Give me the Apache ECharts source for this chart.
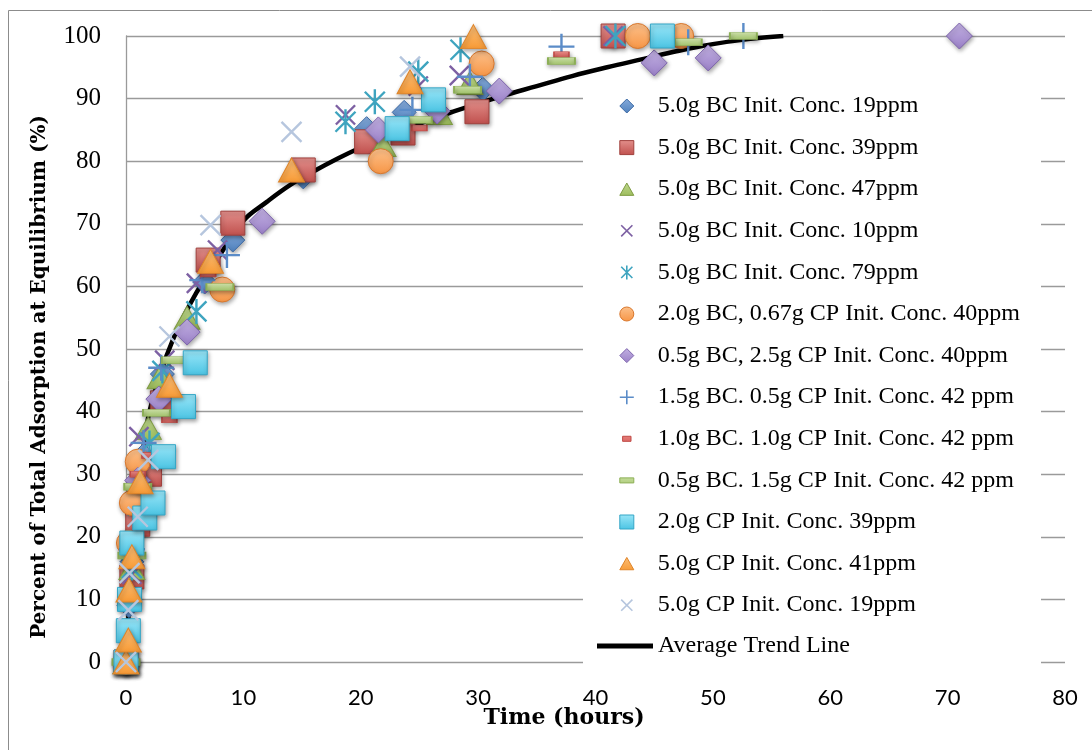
<!DOCTYPE html>
<html><head><meta charset="utf-8">
<script src="https://cdn.jsdelivr.net/npm/echarts@6/dist/echarts.min.js"></script>
<style>html,body{margin:0;padding:0;background:#fff}#c{width:1092px;height:750px}</style>
</head><body><div id="c"></div>
<script>
// ---- data: [time (hours), percent of total adsorption] ----
const seriesNames = [
  '5.0g BC Init. Conc. 19ppm',
  '5.0g BC Init. Conc. 39ppm',
  '5.0g BC Init. Conc. 47ppm',
  '5.0g BC Init. Conc. 10ppm',
  '5.0g BC Init. Conc. 79ppm',
  '2.0g BC, 0.67g CP Init. Conc. 40ppm',
  '0.5g BC, 2.5g CP Init. Conc. 40ppm',
  '1.5g BC. 0.5g CP Init. Conc. 42 ppm',
  '1.0g BC. 1.0g CP Init. Conc. 42 ppm',
  '0.5g BC. 1.5g CP Init. Conc. 42 ppm',
  '2.0g CP Init. Conc. 39ppm',
  '5.0g CP Init. Conc. 41ppm',
  '5.0g CP Init. Conc. 19ppm'
];
const trendName = 'Average Trend Line';

const bc19 = [[0,0],[0.25,9],[0.5,16],[1,26],[1.5,33],[3.1,46],[6.7,60.7],[9.1,67.4],[15.1,77.5],[20.5,85.2],[23.7,87.8],[30.4,91.5],[41.5,100]];
const bc39 = [[0,0],[0.5,13.6],[1,22],[2,30],[3.1,41.4],[7,64.2],[9.1,70.1],[15.1,78.6],[20.5,83.1],[23.6,84.5],[29.9,87.9],[41.5,100]];
const bc47 = [[0,0],[0.5,15],[1,28],[1.9,37.4],[2.9,45.5],[5.2,55],[21.9,82.6],[26.7,87.7],[29.3,92.5]];
const bc10 = [[0,0],[0.5,14],[1.1,36],[3.3,48.2],[6,60.5],[7.8,65.8],[18.7,87.4],[24.9,92],[28.4,93.7],[41.5,100]];
const bc79 = [[0,0],[0.5,15],[1,25],[2,35],[3.1,46.5],[6,56],[18.7,86.3],[21.2,89.5],[24.9,94.3],[28.5,97.8],[41.7,100]];
const bc2cp067 = [[0,0],[0.25,19],[0.5,25.4],[1,32],[8.2,59.5],[21.7,80],[30.3,95.6],[43.6,100],[47.3,100]];
const bc05cp25 = [[0,0],[1,29],[2.8,42],[5.2,52.7],[11.6,70.4],[21.5,85],[26.5,88],[31.8,91.2],[45,95.7],[49.6,96.5],[71,100]];
const bc15cp05 = [[0,0],[0.5,18],[1.5,35],[3,47],[6.5,61],[8.6,65],[24.4,88.2],[29.3,93.5],[37.1,98.3],[47.9,99],[52.6,100]];
const bc10cp10 = [[0,0],[0.5,20],[1,30],[2,33],[3.7,38.7],[7,62],[25,85.3],[37.1,97]];
const bc05cp15 = [[0,0],[0.5,17],[1,28],[2.6,39.8],[4.2,48.2],[8,59.9],[24.9,86.6],[29.1,91.4],[37.1,96],[47.9,99],[52.6,100]];
const cp20 = [[0,0],[0.2,5],[0.3,10],[0.5,19],[1.6,23],[2.3,25.4],[3.2,32.8],[4.9,40.8],[5.9,47.8],[23.1,85.2],[26.2,89.8],[45.7,100]];
const cp50_41 = [[0,0],[0.2,3.5],[0.25,11.5],[0.5,16.8],[1.2,28.8],[3.7,44.2],[7.2,64],[14.1,78.6],[24.2,92.7],[29.6,99.9]];
const cp50_19 = [[0,0],[0.2,8.3],[0.3,14.2],[1,23.2],[1.9,32.3],[3.7,52],[7.2,69.8],[14.1,84.7],[24.2,95.1],[29.7,100.3]];

const trendX = [0,0.5,1,1.5,2,3,4,5,6,7,8,10,12,14,16,18,20,22,24,26,28,30,32,35,38,41,44,47,50,53,56];
const trendY = [0,16,27,34.5,40,46.5,51.5,55.5,59,62,65,70.5,73.5,76.2,78.4,80.4,82.2,83.8,85.2,86.7,88,89.2,90.4,92,93.6,95,96.3,97.6,98.7,99.5,100];

const seriesData = [bc19,bc39,bc47,bc10,bc79,bc2cp067,bc05cp25,bc15cp05,bc10cp10,bc05cp15,cp20,cp50_41,cp50_19];

// ---- styles ----
const P = {
  diamond: 'path://M5,0L10,5L5,10L0,5Z',
  square: 'path://M0,0H10V10H0Z',
  triangle: 'path://M5,0.6L10,9.4L0,9.4ZM0,0M10,10',
  x: 'path://M1,1L9,9M9,1L1,9M0,0M10,10',
  star: 'path://M1,1L9,9M9,1L1,9M5,0L5,10M0,0M10,10',
  circle: 'path://M5,0A5,5,0,1,1,4.99,0Z',
  plus: 'path://M5,0V10M0,5H10',
  dashS: 'path://M2,3.2H8V6.8H2ZM0,0M10,10',
  dashL: 'path://M0,3.2H10V6.8H0ZM0,0M10,10',
  line: 'path://M0,0H56V5H0Z'
};
function grad(a,b){return {type:'linear',x:0,y:0,x2:0,y2:1,colorStops:[{offset:0,color:a},{offset:1,color:b}]};}
const styles = [
  {sym:'diamond', size:24, fill:grad('#86abdb','#4f81bd'), border:'#3d6aa5', icon:P.diamond},
  {sym:'rect', size:24, fill:grad('#e3908c','#c0504d'), border:'#a0403d', icon:P.square},
  {sym:'triangle', size:[26,23], fill:grad('#c2da93','#9bbb59'), border:'#7f9c43', icon:P.triangle},
  {sym:P.x, size:24, stroke:'#7d60a3', icon:P.x},
  {sym:P.star, size:25, stroke:'#3ea4bf', icon:P.star},
  {sym:'circle', size:25, fill:grad('#fcc18c','#f79646'), border:'#d9782e', icon:P.circle},
  {sym:'diamond', size:26, fill:grad('#c2b1e2','#9a80c7'), border:'#7f66ae', icon:P.diamond},
  {sym:P.plus, size:26, stroke:'#5b8cc8', icon:P.plus},
  {sym:'rect', size:[15,6], fill:grad('#ec8c88','#d45a56'), border:'#c04a46', icon:P.dashS},
  {sym:'rect', size:[27,7], fill:grad('#d2e6ad','#a3c46c'), border:'#8caf55', icon:P.dashL},
  {sym:'rect', size:24, fill:grad('#9ae6f8','#4bc4e3'), border:'#35a6c6', icon:P.square},
  {sym:'triangle', size:[26,24], fill:grad('#fcc07a','#f79a35'), border:'#df8428', icon:P.triangle},
  {sym:P.x, size:25, stroke:'#b6c6de', icon:P.x}
];

const series = seriesData.map((d,i)=>{
  const s = styles[i];
  const itemStyle = s.stroke
    ? {color:'transparent', borderColor:s.stroke, borderWidth:2.4, opacity:1}
    : {color:s.fill, borderColor:s.border, borderWidth:1, opacity:1,
       shadowBlur:4, shadowOffsetY:2, shadowOffsetX:1, shadowColor:'rgba(0,0,0,0.35)'};
  return {name:seriesNames[i], type:'scatter', data:d, symbol:s.sym, symbolSize:s.size,
    itemStyle, z:3, silent:true};
});
series.unshift({name:trendName, type:'line', data:trendX.map((x,i)=>[x,trendY[i]]),
  smooth:0.4, showSymbol:false, symbol:'none', z:2, silent:true,
  itemStyle:{color:'#000'}, lineStyle:{color:'#000', width:4.5}});

const legendData = seriesNames.map((n,i)=>{
  const s = styles[i];
  return {name:n, icon:s.icon, itemStyle: s.stroke
    ? {color:'transparent', borderColor:s.stroke, borderWidth:1.6, opacity:1}
    : {color:s.fill, borderColor:s.border, borderWidth:1, opacity:1}};
});

const serif = '"Liberation Serif", "DejaVu Serif", serif';
const chart = echarts.init(document.getElementById('c'), null, {renderer:'canvas'});
chart.setOption({
  animation:false,
  backgroundColor:'#fff',
  grid:{left:126, right:27, top:36, bottom:88, containLabel:false},
  xAxis:{type:'value', min:0, max:80, interval:10,
    axisLine:{show:false}, axisTick:{show:false}, splitLine:{show:false},
    axisLabel:{margin:25, color:'#000', fontFamily:'Lato, "Liberation Sans", sans-serif', fontSize:22}},
  yAxis:{type:'value', min:0, max:100, interval:10,
    axisLine:{show:true, lineStyle:{color:'#9a9a9a', width:1.3}}, axisTick:{show:false},
    splitLine:{show:true, lineStyle:{color:'#9a9a9a', width:1.3}},
    axisLabel:{margin:25, color:'#000', fontFamily:serif, fontSize:25}},
  legend:[
    {orient:'vertical', left:619, top:94, padding:0, itemWidth:14, itemHeight:14, itemGap:17.6,
     symbolKeepAspect:true, selectedMode:false, z:5,
     textStyle:{fontFamily:serif, fontSize:24, color:'#000', lineHeight:24, padding:[0,0,0,19]},
     data:legendData},
    {orient:'vertical', left:597, top:634, padding:0, itemWidth:56, itemHeight:14, selectedMode:false, z:5,
     symbolKeepAspect:true,
     textStyle:{fontFamily:serif, fontSize:24, color:'#000', lineHeight:24},
     data:[{name:trendName, icon:P.line, itemStyle:{color:'#000', borderWidth:0, opacity:1}}]}
  ],
  graphic:[
    {type:'rect', z:0, silent:true, shape:{x:8.5, y:10.5, width:1200, height:800},
     style:{fill:'none', stroke:'#8c8c8c', lineWidth:1}},
    {type:'rect', z:1, silent:true, shape:{x:583, y:76, width:458, height:596},
     style:{fill:'#fff'}},
    {type:'text', z:5, silent:true, x:564, y:718,
     style:{text:'Time (hours)', align:'center', verticalAlign:'middle',
       font:'bold 22px "DejaVu Serif", serif', fill:'#000'}},
    {type:'text', z:5, silent:true, x:40, y:377, rotation:Math.PI/2,
     style:{text:'Percent of Total Adsorption at Equilibrium (%)', align:'center', verticalAlign:'middle',
       font:'bold 20px "DejaVu Serif", serif', fill:'#000'}}
  ],
  series
});
</script></body></html>
